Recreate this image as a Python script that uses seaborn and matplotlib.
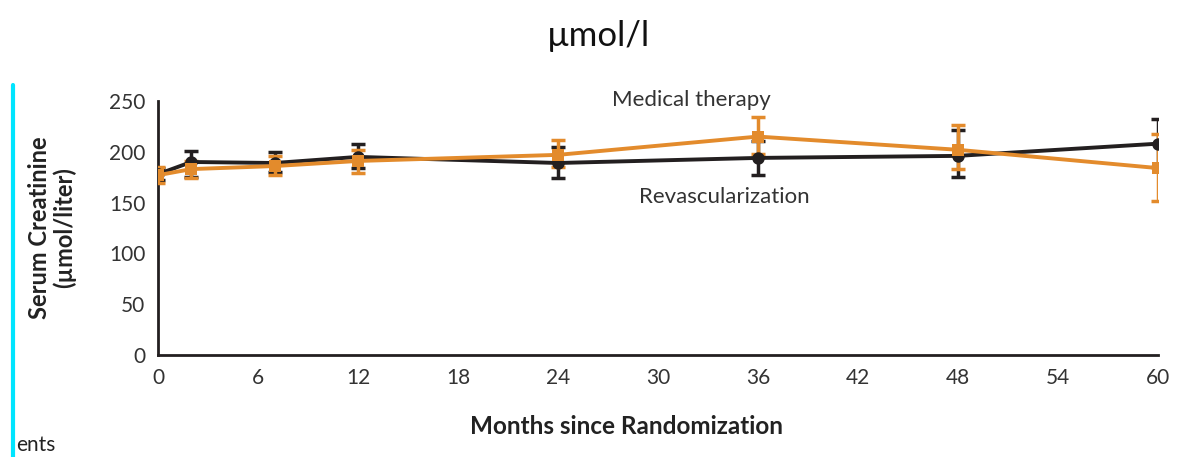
import numpy as np
import pandas as pd
import matplotlib
matplotlib.use("Agg")
import matplotlib.pyplot as plt
import seaborn as sns

months = [0, 2, 7, 12, 24, 36, 48, 60]
revasc_mean = [178, 190, 189, 195, 189, 194, 196, 208]
revasc_low = [172, 175, 180, 184, 174, 177, 175, 185]
revasc_high = [184, 201, 200, 208, 205, 211, 221, 232]
medical_mean = [177, 183, 186, 191, 197, 215, 202, 184]
medical_low = [169, 174, 177, 179, 185, 198, 183, 152]
medical_high = [185, 191, 196, 202, 212, 234, 226, 218]

x_ticks = [0, 6, 12, 18, 24, 30, 36, 42, 48, 54, 60]
y_ticks = [0, 50, 100, 150, 200, 250]

BLACK = "#231f20"
ORANGE = "#e38b2c"

sns.set_theme(style="white")
plt.rcParams["font.family"] = ["Lato", "DejaVu Sans"]

df = pd.DataFrame({
    "Months": months * 2,
    "Value": revasc_mean + medical_mean,
    "Group": ["Revascularization"] * len(months) + ["Medical therapy"] * len(months),
})

fig = plt.figure(figsize=(11.79, 4.57), dpi=100)
ax = fig.add_axes([0.134, 0.223, 0.848, 0.556])

# error bars
for mean, lo, hi, col in [(revasc_mean, revasc_low, revasc_high, BLACK),
                          (medical_mean, medical_low, medical_high, ORANGE)]:
    m = np.array(mean); l = np.array(lo); h = np.array(hi)
    ax.errorbar(months, m, yerr=[m - l, h - m], fmt="none", ecolor=col,
                elinewidth=2.5, capsize=5, capthick=2.5, zorder=3)

sns.lineplot(data=df, x="Months", y="Value", hue="Group", style="Group",
             palette={"Revascularization": BLACK, "Medical therapy": ORANGE},
             markers={"Revascularization": "o", "Medical therapy": "s"},
             dashes=False, linewidth=2.8, markersize=9, markeredgewidth=0,
             legend=False, ax=ax, zorder=4)

ax.set_xlim(0, 60)
ax.set_ylim(0, 250)
ax.set_xticks(x_ticks)
ax.set_yticks(y_ticks)
ax.set_xticklabels([str(t) for t in x_ticks])
ax.set_yticklabels([str(t) for t in y_ticks])
for s in ["top", "right"]:
    ax.spines[s].set_visible(False)
for s in ["left", "bottom"]:
    ax.spines[s].set_color(BLACK)
    ax.spines[s].set_linewidth(2)
ax.tick_params(axis="both", which="major", direction="out", length=7, width=1.5,
               color=BLACK, labelsize=15, labelcolor="#333333", pad=2)
ax.set_xlabel("Months since Randomization", fontsize=17.5, fontweight="bold",
              color="#222222")
ax.xaxis.set_label_coords(0.469, -0.235)
ax.set_ylabel("Serum Creatinine\n(\u00b5mol/liter)", fontsize=17, fontweight="bold",
              color="#222222", labelpad=24, linespacing=1.05)

ax.text(32.0, 251, "Medical therapy", fontsize=16, color="#333333", ha="center", va="center")
ax.text(34.0, 156, "Revascularization", fontsize=16, color="#333333", ha="center", va="center")

fig.text(0.508, 0.922, "\u00b5mol/l", fontsize=25, color="#111111", ha="center", va="center")

# screenshot artifacts
fig.add_artist(plt.Line2D([0.011, 0.011], [0.0, 0.815], color="#00e5ff", linewidth=3,
                          transform=fig.transFigure))
fig.text(0.014, 0.004, "ents", fontsize=15, color="#222222", ha="left", va="bottom")

fig.savefig("out.png", dpi=100)
